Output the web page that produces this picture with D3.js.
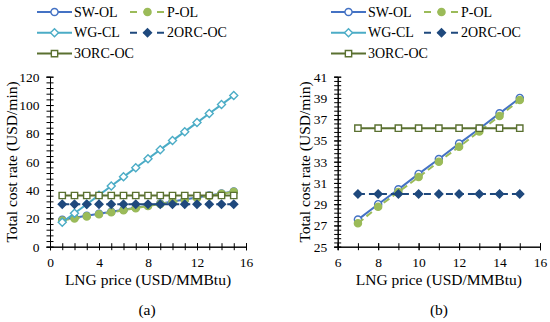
<!DOCTYPE html>
<html lang="en">
<head>
<meta charset="UTF-8">
<title>Total cost rate vs LNG price</title>
<style>
  body { margin: 0; background: #fff; }
  svg { display: block; }
  svg text { font-family: "Liberation Serif", "Times New Roman", Times, serif !important; fill: #000; }
  .axis path, .axis line { stroke: #000; stroke-width: 1; }
</style>
</head>
<body>
<svg width="550" height="322"></svg>
<script src="https://d3js.org/d3.v7.min.js"></script>
<script>
// data
var priceA = [1, 2, 3, 4, 5, 6, 7, 8, 9, 10, 11, 12, 13, 14, 15];
var priceB = [7, 8, 9, 10, 11, 12, 13, 14, 15];

var swOL  = [19.0, 20.4, 21.8, 23.3, 24.7, 26.1, 27.55, 29.0, 30.4, 31.85, 33.25, 34.7, 36.1, 37.55, 39.0];
var pOL   = [18.5, 19.95, 21.4, 22.85, 24.3, 25.75, 27.2, 28.75, 30.15, 31.55, 33.0, 34.4, 35.85, 37.3, 38.8];
var wgCL  = [17.2, 23.6, 30.0, 36.4, 42.8, 49.3, 55.7, 62.1, 68.5, 74.9, 81.2, 87.6, 94.0, 100.3, 106.7];
var orc2  = [29.95, 29.95, 29.95, 29.95, 29.95, 29.95, 29.95, 29.95, 29.95, 29.95, 29.95, 29.95, 29.95, 29.95, 29.95];
var orc3  = [36.15, 36.15, 36.15, 36.15, 36.15, 36.15, 36.15, 36.15, 36.15, 36.15, 36.15, 36.15, 36.15, 36.15, 36.15];

var seriesNames = ["SW-OL", "P-OL", "WG-CL", "2ORC-OC", "3ORC-OC"];
var xTicksA = [0, 4, 8, 12, 16];
var yTicksA = [0, 20, 40, 60, 80, 100, 120];
var xTicksB = [6, 8, 10, 12, 14, 16];
var yTicksB = [25, 27, 29, 31, 33, 35, 37, 39, 41];

var styles = {
  "SW-OL":   { color: "#4472C4", dash: null,  marker: "circle",  fill: "#fff" },
  "P-OL":    { color: "#9BBB59", dash: "7,4", marker: "circle",  fill: "#9BBB59" },
  "WG-CL":   { color: "#4BACC6", dash: null,  marker: "diamond", fill: "#fff" },
  "2ORC-OC": { color: "#1F497D", dash: "7,4", marker: "diamond", fill: "#1F497D" },
  "3ORC-OC": { color: "#5A7030", dash: null,  marker: "square",  fill: "#fff" }
};

var FONT = "'Liberation Serif', 'Times New Roman', serif";
var svg = d3.select("svg");

function markerPath(type) {
  if (type === "circle") return d3.symbol(d3.symbolCircle, 40)();
  if (type === "square") return d3.symbol(d3.symbolSquare, 40)();
  return "M0,-4L4,0L0,4L-4,0Z";
}

function range(a, b, step) {
  var out = [];
  for (var v = a; v <= b + 1e-9; v += step) out.push(+v.toFixed(4));
  return out;
}

function panel(opt) {
  var g = svg.append("g");
  var x = d3.scaleLinear().domain(opt.xDom).range(opt.xRange);
  var y = d3.scaleLinear().domain(opt.yDom).range(opt.yRange);

  // minor ticks
  var minorX = g.append("g").attr("class", "axis")
    .attr("transform", "translate(0," + opt.yRange[0] + ")")
    .call(d3.axisBottom(x).tickValues(range(opt.xDom[0], opt.xDom[1], opt.xMinor)).tickFormat("").tickSize(3.5));
  minorX.selectAll(".tick line").attr("y1", -3.5);
  var minorY = g.append("g").attr("class", "axis")
    .attr("transform", "translate(" + opt.xRange[0] + ",0)")
    .call(d3.axisLeft(y).tickValues(range(opt.yDom[0], opt.yDom[1], opt.yMinor)).tickFormat("").tickSize(3.5));
  minorY.selectAll(".tick line").attr("x1", 3.5);

  var ax = g.append("g").attr("class", "axis")
    .attr("transform", "translate(0," + opt.yRange[0] + ")")
    .call(d3.axisBottom(x).tickValues(opt.xTicks).tickSize(3.5).tickPadding(7).tickSizeOuter(0));
  ax.selectAll(".tick line").attr("y1", -3.5);
  ax.attr("font-family", FONT).attr("font-size", 13.5);

  var ay = g.append("g").attr("class", "axis")
    .attr("transform", "translate(" + opt.xRange[0] + ",0)")
    .call(d3.axisLeft(y).tickValues(opt.yTicks).tickSize(3.5).tickPadding(7).tickSizeOuter(0));
  ay.selectAll(".tick line").attr("x1", 3.5);
  ay.attr("font-family", FONT).attr("font-size", 13.5);

  // axis titles
  g.append("text")
    .attr("x", (opt.xRange[0] + opt.xRange[1]) / 2)
    .attr("y", 285)
    .attr("text-anchor", "middle")
    .style("font-size", "15.5px")
    .text("LNG price (USD/MMBtu)");
  g.append("text")
    .attr("transform", "translate(" + opt.yTitleX + "," + 162 + ") rotate(-90)")
    .attr("text-anchor", "middle")
    .style("font-size", "15.5px")
    .text("Total cost rate (USD/min)");
  g.append("text")
    .attr("x", opt.captionX)
    .attr("y", 315)
    .attr("text-anchor", "middle")
    .style("font-size", "15.5px")
    .text(opt.caption);

  // series
  var allSeries = [swOL, pOL, wgCL, orc2, orc3];
  seriesNames.forEach(function(name, i) {
    var st = styles[name];
    var pts = opt.xs.map(function(p, j) { return [p, allSeries[i][opt.offset + j]]; });
    var line = d3.line().x(function(d) { return x(d[0]); }).y(function(d) { return y(d[1]); });
    g.append("path")
      .datum(pts)
      .attr("d", line)
      .attr("fill", "none")
      .attr("stroke", st.color)
      .attr("stroke-width", 2)
      .attr("stroke-dasharray", st.dash);
    g.selectAll(".m" + i)
      .data(pts)
      .enter().append("path")
      .attr("transform", function(d) { return "translate(" + x(d[0]) + "," + y(d[1]) + ")"; })
      .attr("d", markerPath(st.marker))
      .attr("fill", st.fill)
      .attr("stroke", st.color)
      .attr("stroke-width", 1.4);
  });

  // legend
  var rows = [[0, 0], [1, 0], [0, 1], [1, 1], [0, 2]];
  seriesNames.forEach(function(name, i) {
    var st = styles[name];
    var lx = opt.legX[rows[i][0]];
    var ly = 12 + rows[i][1] * 20.8;
    var lg = g.append("g").attr("transform", "translate(" + lx + "," + ly + ")");
    lg.append("line")
      .attr("x1", 0).attr("x2", 35).attr("y1", 0).attr("y2", 0)
      .attr("stroke", st.color).attr("stroke-width", 2)
      .attr("stroke-dasharray", st.dash ? "7,6.5" : null);
    lg.append("path")
      .attr("transform", "translate(17.5,0)")
      .attr("d", markerPath(st.marker))
      .attr("fill", st.fill)
      .attr("stroke", st.color)
      .attr("stroke-width", 1.4);
    lg.append("text")
      .attr("x", 37).attr("y", 4.6)
      .style("font-size", "14px")
      .text(name);
  });
}

panel({
  xDom: [0, 16], xRange: [50, 246], yDom: [0, 120], yRange: [246.7, 76.7],
  xTicks: xTicksA, yTicks: yTicksA, xMinor: 1, yMinor: 4,
  xs: priceA, offset: 0, yTitleX: 17, caption: "(a)", captionX: 147,
  legX: [37, 130]
});

panel({
  xDom: [6, 16], xRange: [337.7, 540], yDom: [25, 41], yRange: [246.7, 76.7],
  xTicks: xTicksB, yTicks: yTicksB, xMinor: 1, yMinor: 0.4,
  xs: priceB, offset: 6, yTitleX: 310, caption: "(b)", captionX: 439,
  legX: [331, 424]
});
</script>
</body>
</html>
